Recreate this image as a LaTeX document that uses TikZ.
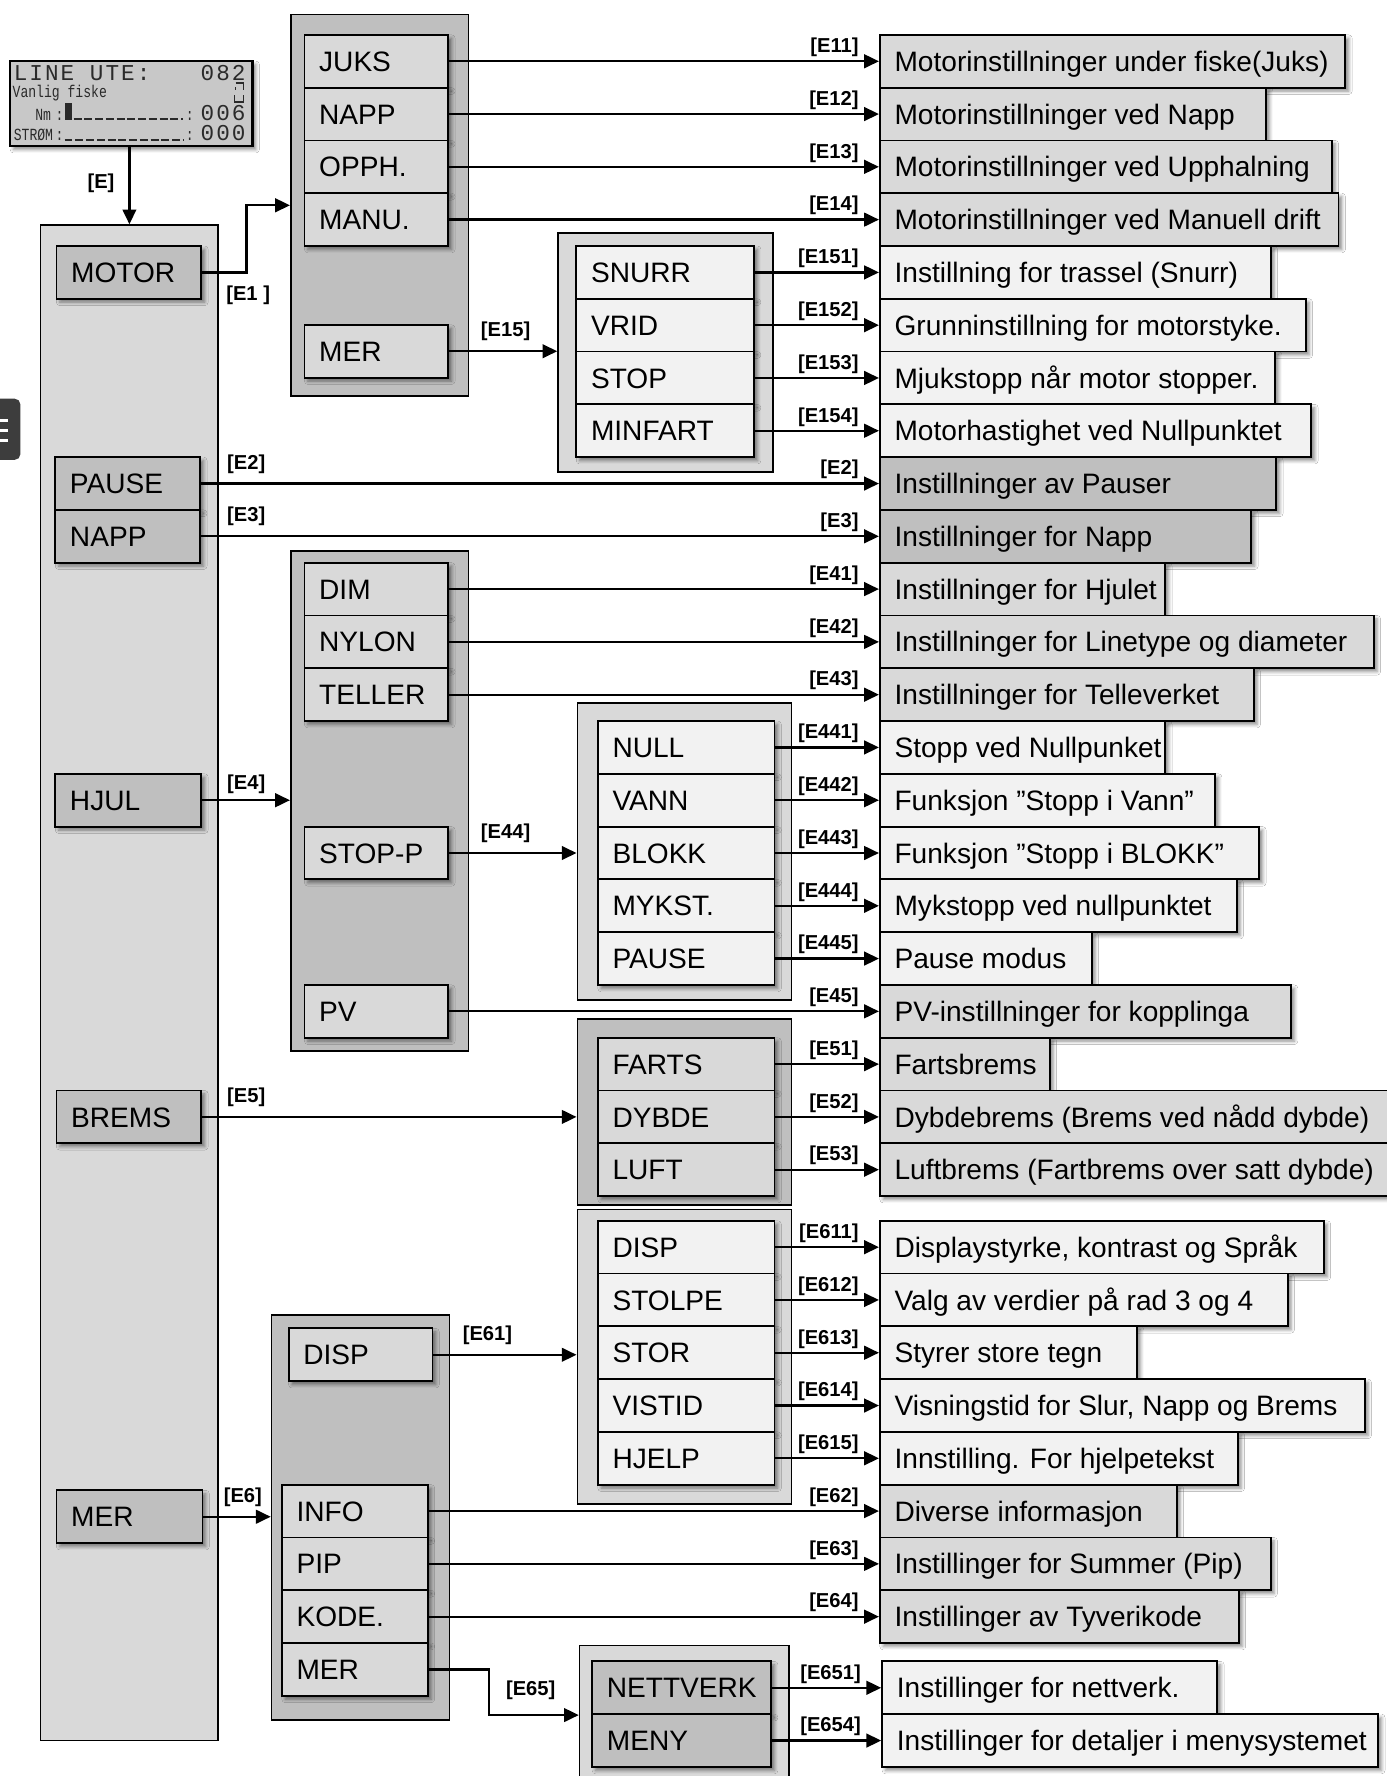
\documentclass[tikz,border=0pt]{standalone}
\usepackage{fontspec}
\setmainfont{Liberation Sans}
\newfontfamily\lcdA{Liberation Mono}[LetterSpace=9]
\newfontfamily\lcdB{Liberation Mono}[FakeStretch=0.77]
\usetikzlibrary{arrows.meta,shadows.blur,calc}
\definecolor{gA}{HTML}{BFBFBF}
\definecolor{gB}{HTML}{D9D9D9}
\definecolor{gC}{HTML}{F2F2F2}
\definecolor{lcdbg}{HTML}{C8C8C8}
\definecolor{lcdink}{HTML}{2A2A2A}
\tikzset{
  shad/.style={blur shadow={shadow xshift=3pt,shadow yshift=-3pt,shadow blur radius=3pt,shadow opacity=45}},
  btn/.style={draw=black,line width=1.6pt,rectangle,anchor=north west,inner xsep=13pt,inner ysep=0pt,
    minimum height=46.6pt,text height=17.8pt,text depth=0pt,shad,
    font=\fontsize{24.8pt}{28pt}\selectfont},
  grpbox/.style={draw=black,line width=1.5pt,rectangle,anchor=north west,inner sep=0pt},
  con/.style={line width=2pt,-{Triangle[length=13pt,width=12pt]}},
  lab/.style={font=\bfseries\fontsize{17.8pt}{19pt}\selectfont,inner sep=0pt},
  rlab/.style={lab,pos=1,anchor=south east,xshift=-17pt,yshift=3pt},
  llab/.style={lab,pos=0,anchor=south west,yshift=8pt},
  lcdbig/.style={inner sep=0pt,text=lcdink,font=\lcdA\fontsize{20pt}{20pt}\selectfont},
  lcdsmall/.style={inner sep=0pt,text=lcdink,font=\lcdB\fontsize{15pt}{15pt}\selectfont},
}
\newcommand\bx[6]{%
  \pgfmathsetmacro\bxw{#3-#2-26}%
  \node[btn,fill=#5] (#1) at (#2,#4) {\makebox[\bxw pt][l]{#6}};}
\newcommand\grp[6]{%
  \node[grpbox,fill=#6,minimum width={#4-#2},minimum height={#5-#3}] (#1) at (#2,#3) {};}
\newcommand\rc[3]{%
  \draw[con] (#1.east) -- (#1.east -| #2.west) node[rlab] {#3};}
\begin{document}
\begin{tikzpicture}[x=1pt,y=-1pt]
\useasboundingbox (0,0) rectangle (1224,1568);
\fill[white] (0,0) rectangle (1224,1568);

% side artefact
\fill[black!76,rounded corners=5pt] (-10,352) rectangle (18,406);
\foreach \yy in {371,380,389} \draw[white,line width=2.5pt] (0,\yy) -- (7,\yy);

% LCD display
\node[draw=black,line width=2pt,fill=lcdbg,anchor=north west,minimum width=214,minimum height=75,inner sep=0pt,shad] (lcd) at (8,53) {};
\node[lcdbig,anchor=base west] at (12,71) {LINE UTE:};
\node[lcdbig,anchor=base east] at (217,71) {082};
\node[lcdsmall,anchor=base west] at (11,86.5) {Vanlig fiske};
\draw[lcdink,line width=1.5pt] (208,73.5) -- (215,73.5) -- (215,79.5) (208,77) -- (208,79.5);
\draw[lcdink,line width=1.5pt] (207,84) -- (207,90) -- (215,90) -- (215,84);
\node[lcdsmall,anchor=base west] at (31,106) {Nm};
\node[lcdsmall,anchor=base west] at (49,106) {:};
\fill[lcdink] (57,91) rectangle (64,106);
\draw[lcdink,line width=1.5pt,dash pattern=on 7pt off 2.5pt] (65,105.3) -- (162,105.3);
\node[lcdsmall,anchor=base west] at (164,106) {:};
\node[lcdbig,anchor=base east] at (217,106) {006};
\node[lcdsmall,anchor=base west] at (12,124) {STRØM};
\node[lcdsmall,anchor=base west] at (49,124) {:};
\draw[lcdink,line width=1.5pt,dash pattern=on 7pt off 2.5pt] (57,123.3) -- (162,123.3);
\node[lcdsmall,anchor=base west] at (164,124) {:};
\node[lcdbig,anchor=base east] at (217,124) {000};

% groups
\grp{main}{35}{198}{192}{1536}{gB}
\grp{g1}{256}{12}{413}{349}{gA}
\grp{g15}{492}{205}{682}{416}{gB}
\grp{g4}{256}{486}{413}{927}{gA}
\grp{g44}{509}{620}{698}{882}{gB}
\grp{g5}{509}{899}{698}{1063}{gA}
\grp{g61}{509}{1067}{698}{1327}{gB}
\grp{g6}{239}{1160}{396}{1518}{gA}
\grp{g65}{511}{1452}{696}{1600}{gB}

% main column buttons
\bx{motor}{49}{177}{216.4}{gA}{MOTOR}
\bx{pause}{48}{176}{402.8}{gA}{PAUSE}
\bx{napp}{48}{176}{449.4}{gA}{NAPP}
\bx{hjul}{48}{177}{682.4}{gA}{HJUL}
\bx{brems}{49}{177}{962}{gA}{BREMS}
\bx{mer}{49}{178}{1315}{gA}{MER}

% group 1
\bx{juks}{268}{395}{30}{gB}{JUKS}
\bx{napp1}{268}{395}{76.6}{gB}{NAPP}
\bx{opph}{268}{395}{123.2}{gB}{OPPH.}
\bx{manu}{268}{395}{169.8}{gB}{MANU.}
\bx{mer1}{268}{395}{286}{gB}{MER}

% group 15
\bx{snurr}{508}{665}{216.4}{gC}{SNURR}
\bx{vrid}{508}{665}{263}{gC}{VRID}
\bx{stop}{508}{665}{309.6}{gC}{STOP}
\bx{minfart}{508}{665}{356.2}{gC}{MINFART}

% group 4
\bx{dim}{268}{395}{496}{gB}{DIM}
\bx{nylon}{268}{395}{542.6}{gB}{NYLON}
\bx{teller}{268}{395}{589.2}{gB}{TELLER}
\bx{stopp}{268}{395}{729}{gB}{STOP-P}
\bx{pv}{268}{395}{868.8}{gB}{PV}

% group 44
\bx{null}{527}{683}{635.8}{gC}{NULL}
\bx{vann}{527}{683}{682.4}{gC}{VANN}
\bx{blokk}{527}{683}{729}{gC}{BLOKK}
\bx{mykst}{527}{683}{775.6}{gC}{MYKST.}
\bx{pause4}{527}{683}{822.2}{gC}{PAUSE}

% group 5
\bx{farts}{527}{683}{915.4}{gB}{FARTS}
\bx{dybde}{527}{683}{962}{gB}{DYBDE}
\bx{luft}{527}{683}{1008.6}{gB}{LUFT}

% group 61
\bx{disp2}{527}{683}{1077}{gC}{DISP}
\bx{stolpe}{527}{683}{1123.6}{gC}{STOLPE}
\bx{stor}{527}{683}{1170.2}{gC}{STOR}
\bx{vistid}{527}{683}{1216.8}{gC}{VISTID}
\bx{hjelp}{527}{683}{1263.4}{gC}{HJELP}

% group 6
\bx{disp}{254}{381}{1172}{gB}{DISP}
\bx{info}{248}{377}{1310}{gB}{INFO}
\bx{pip}{248}{377}{1356.6}{gB}{PIP}
\bx{kode}{248}{377}{1403.2}{gB}{KODE.}
\bx{mer6}{248}{377}{1449.8}{gB}{MER}

% group 65
\bx{nettverk}{522}{680}{1466}{gA}{NETTVERK}
\bx{meny}{522}{680}{1512.6}{gA}{MENY}

% right column
\bx{r11}{776}{1187}{30}{gB}{Motorinstillninger under fiske(Juks)}
\bx{r12}{776}{1117}{76.6}{gB}{Motorinstillninger ved Napp}
\bx{r13}{776}{1175}{123.2}{gB}{Motorinstillninger ved Upphalning}
\bx{r14}{776}{1181}{169.8}{gB}{Motorinstillninger ved Manuell drift}
\bx{r151}{776}{1121}{216.4}{gC}{Instillning for trassel (Snurr)}
\bx{r152}{776}{1152}{263}{gC}{Grunninstillning for motorstyke.}
\bx{r153}{776}{1125}{309.6}{gC}{Mjukstopp når motor stopper.}
\bx{r154}{776}{1157}{356.2}{gC}{Motorhastighet ved Nullpunktet}
\bx{r2}{776}{1126}{402.8}{gA}{Instillninger av Pauser}
\bx{r3}{776}{1104}{449.4}{gA}{Instillninger for Napp}
\bx{r41}{776}{1028}{496}{gB}{Instillninger for Hjulet}
\bx{r42}{776}{1212}{542.6}{gB}{Instillninger for Linetype og diameter}
\bx{r43}{776}{1106}{589.2}{gB}{Instillninger for Telleverket}
\bx{r441}{776}{1028}{635.8}{gC}{Stopp ved Nullpunket}
\bx{r442}{776}{1072}{682.4}{gC}{Funksjon ”Stopp i Vann”}
\bx{r443}{776}{1111}{729}{gC}{Funksjon ”Stopp i BLOKK”}
\bx{r444}{776}{1091}{775.6}{gC}{Mykstopp ved nullpunktet}
\bx{r445}{776}{963}{822.2}{gC}{Pause modus}
\bx{r45}{776}{1139}{868.8}{gB}{PV-instillninger for kopplinga}
\bx{r51}{776}{926}{915.4}{gB}{Fartsbrems}
\bx{r52}{776}{1240}{962}{gB}{Dybdebrems (Brems ved nådd dybde)}
\bx{r53}{776}{1240}{1008.6}{gB}{Luftbrems (Fartbrems over satt dybde)}
\bx{r611}{776}{1168}{1077}{gC}{Displaystyrke, kontrast og Språk}
\bx{r612}{776}{1136}{1123.6}{gC}{Valg av verdier på rad 3 og 4}
\bx{r613}{776}{1003}{1170.2}{gC}{Styrer store tegn}
\bx{r614}{776}{1204}{1216.8}{gC}{Visningstid for Slur, Napp og Brems}
\bx{r615}{776}{1092}{1263.4}{gC}{Innstilling. For hjelpetekst}
\bx{r62}{776}{1038}{1310}{gB}{Diverse informasjon}
\bx{r63}{776}{1121}{1356.6}{gB}{Instillinger for Summer (Pip)}
\bx{r64}{776}{1093}{1403.2}{gB}{Instillinger av Tyverikode}
\bx{r651}{778}{1074}{1466}{gC}{Instillinger for nettverk.}
\bx{r654}{778}{1216}{1512.6}{gC}{Instillinger for detaljer i menysystemet}

% connectors
\draw[con] (main.north |- lcd.south) -- (main.north);
\node[lab,anchor=east] at ($(main.north)+(-13,-36)$) {[E]};
\draw[con] (motor.east) -- ++(39,0) |- (g1.west);
\node[lab,anchor=north west] at ($(motor.east)+(21,12)$) {[E1 ]};
\rc{juks}{r11}{[E11]}
\rc{napp1}{r12}{[E12]}
\rc{opph}{r13}{[E13]}
\rc{manu}{r14}{[E14]}
\draw[con] (mer1.east) -- (mer1.east -| g15.west) node[llab,xshift=27pt]{[E15]};
\rc{snurr}{r151}{[E151]}
\rc{vrid}{r152}{[E152]}
\rc{stop}{r153}{[E153]}
\rc{minfart}{r154}{[E154]}
\draw[con] (pause.east) -- (pause.east -| r2.west) node[rlab]{[E2]} node[llab,xshift=22pt]{[E2]};
\draw[con] (napp.east) -- (napp.east -| r3.west) node[rlab]{[E3]} node[llab,xshift=22pt]{[E3]};
\draw[con] (hjul.east) -- (hjul.east -| g4.west) node[llab,xshift=21pt,yshift=-3pt]{[E4]};
\rc{dim}{r41}{[E41]}
\rc{nylon}{r42}{[E42]}
\rc{teller}{r43}{[E43]}
\draw[con] (stopp.east) -- (stopp.east -| g44.west) node[llab,xshift=27pt]{[E44]};
\rc{null}{r441}{[E441]}
\rc{vann}{r442}{[E442]}
\rc{blokk}{r443}{[E443]}
\rc{mykst}{r444}{[E444]}
\rc{pause4}{r445}{[E445]}
\rc{pv}{r45}{[E45]}
\draw[con] (brems.east) -- (brems.east -| g5.west) node[llab,xshift=21pt]{[E5]};
\rc{farts}{r51}{[E51]}
\rc{dybde}{r52}{[E52]}
\rc{luft}{r53}{[E53]}
\draw[con] (mer.east) -- (mer.east -| g6.west) node[llab,xshift=17pt]{[E6]};
\draw[con] (disp.east) -- (disp.east -| g61.west) node[llab,xshift=25pt]{[E61]};
\rc{disp2}{r611}{[E611]}
\rc{stolpe}{r612}{[E612]}
\rc{stor}{r613}{[E613]}
\rc{vistid}{r614}{[E614]}
\rc{hjelp}{r615}{[E615]}
\rc{info}{r62}{[E62]}
\rc{pip}{r63}{[E63]}
\rc{kode}{r64}{[E64]}
\draw[con] (mer6.east) -- ++(53,0) |- (nettverk.south west -| g65.west);
\node[lab,anchor=west] at ($(mer6.east)+(68,18)$) {[E65]};
\rc{nettverk}{r651}{[E651]}
\rc{meny}{r654}{[E654]}
\end{tikzpicture}
\end{document}
